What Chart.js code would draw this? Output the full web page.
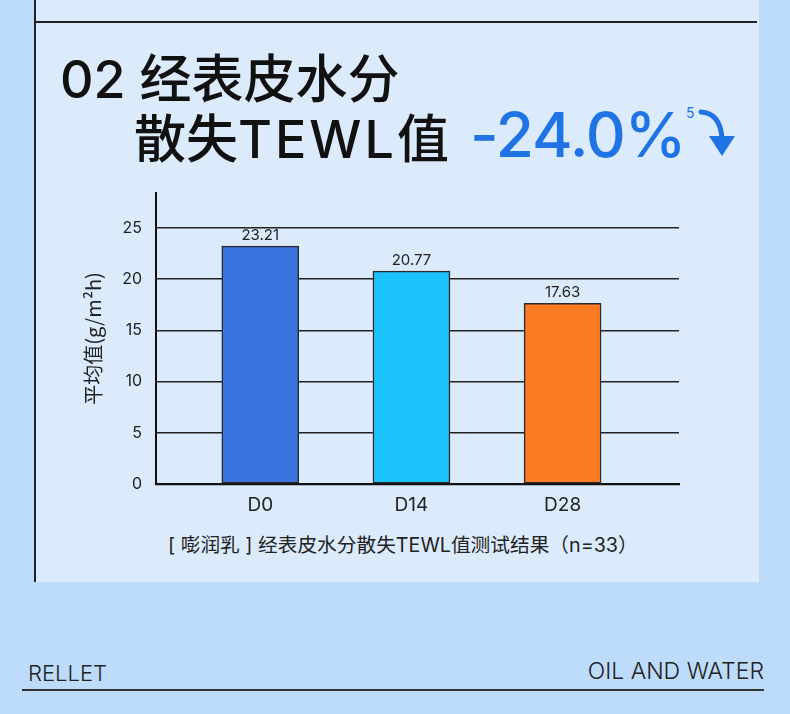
<!DOCTYPE html>
<html>
<head>
<meta charset="utf-8">
<script src="https://cdn.jsdelivr.net/npm/chart.js@4.4.1/dist/chart.umd.min.js"></script>
<style>
  body { margin: 0; width: 790px; height: 714px; background: #bddcfb; position: relative; overflow: hidden;
         font-family: Inter, "Noto Sans CJK SC", sans-serif; color: #111; }
  #panel { position: absolute; left: 34px; top: 0; width: 723px; height: 582px; background: #dcebfc; border-left: 2px solid #222; }
  #topline { position: absolute; left: 34px; top: 21px; width: 723px; height: 2px; background: #222; }
  .t { position: absolute; white-space: nowrap; line-height: 1; }
  #title1 { left: 60px; top: 54px; font-size: 52px; font-weight: 500; }
  #title2 { left: 134px; top: 114px; font-size: 52px; font-weight: 500; }
  #title2 span { letter-spacing: 3px; }
  #pct { left: 470px; top: 104px; font-size: 62px; color: #1f73e4; font-weight: 500; letter-spacing: -1px; }
  #sup { left: 686px; top: 106px; font-size: 14px; color: #1f73e4; }
  #caption { left: 168px; top: 536px; font-size: 19.7px; color: #222; }
  #brand { left: 28px; top: 662px; font-size: 22px; font-weight: 300; color: #222; }
  #slogan { right: 26px; top: 660px; font-size: 23px; font-weight: 300; color: #222; }
  #footline { position: absolute; left: 22px; top: 689px; width: 742px; height: 2px; background: #333; }
  #arrow { position: absolute; left: 692px; top: 104px; }
  #chart { position: absolute; left: 0; top: 0; }
</style>
</head>
<body>
<div id="panel"></div>
<div id="topline"></div>
<div class="t" id="title1">02 经表皮水分</div>
<div class="t" id="title2">散失<span>TEWL</span>值</div>
<div class="t" id="pct">-24.0%</div>
<div class="t" id="sup">5</div>
<svg id="arrow" width="50" height="60" viewBox="0 0 50 60">
  <path d="M9,8 Q28,9 30,34" fill="none" stroke="#1f73e4" stroke-width="5" stroke-linecap="round"/>
  <path d="M17,32 L43,32 L30,52 Z" fill="#1f73e4"/>
</svg>
<div class="t" id="caption">[ 嘭润乳 ] 经表皮水分散失TEWL值测试结果（n=33）</div>
<div class="t" id="brand">RELLET</div>
<div class="t" id="slogan">OIL AND WATER</div>
<div id="footline"></div>
<canvas id="chart" width="790" height="714"></canvas>

<script>
// chart data
const categories = ['D0', 'D14', 'D28'];
const tewlValues = [23.21, 20.77, 17.63];
const barColors = ['#3a74df', '#1cc2fd', '#fc7a20'];
const yTicks = [0, 5, 10, 15, 20, 25];

// value labels above the bars
const valueLabels = {
  id: 'valueLabels',
  afterDatasetsDraw(chart) {
    const ctx = chart.ctx;
    const meta = chart.getDatasetMeta(0);
    ctx.save();
    ctx.font = '15px Inter';
    ctx.fillStyle = '#222';
    ctx.textAlign = 'center';
    ctx.textBaseline = 'bottom';
    meta.data.forEach((bar, i) => {
      ctx.fillText(tewlValues[i].toFixed(2), bar.x, bar.y - 3);
    });
    ctx.restore();
  }
};

const ctx = document.getElementById('chart').getContext('2d');
const chart = new Chart(ctx, {
  type: 'bar',
  data: {
    datasets: [{
      data: tewlValues.map((v, i) => ({ x: i, y: v })),
      backgroundColor: barColors,
      borderColor: '#2a2a2a',
      borderWidth: 1.5,
      borderSkipped: false,
      barThickness: 77
    }]
  },
  options: {
    responsive: false,
    animation: false,
    layout: { padding: { left: 79, top: 193, right: 111, bottom: 190 } },
    plugins: { legend: { display: false }, tooltip: { enabled: false } },
    scales: {
      x: {
        type: 'linear',
        offset: false,
        min: -0.69,
        max: 2.77,
        afterBuildTicks: axis => { axis.ticks = categories.map((c, i) => ({ value: i })); },
        afterFit: axis => { axis.height = 40; },
        grid: { display: false, offset: false },
        border: { color: '#111', width: 2.2 },
        ticks: {
          callback: v => categories[v],
          font: { family: 'Inter', size: 19 },
          color: '#222',
          padding: 2,
          maxRotation: 0
        }
      },
      y: {
        min: 0,
        max: 28.4,
        afterBuildTicks: axis => { axis.ticks = yTicks.map(v => ({ value: v })); },
        afterFit: axis => { axis.width = 77; },
        grid: { color: '#222', lineWidth: 1.6, drawTicks: false },
        border: { color: '#111', width: 2 },
        ticks: { font: { family: 'Inter', size: 16 }, color: '#222', padding: 14 },
        title: {
          display: true,
          text: '平均值(g/m²h)',
          font: { family: '"Noto Sans CJK SC"', size: 20 },
          color: '#222',
          padding: { top: 2, bottom: 4 }
        }
      }
    }
  },
  plugins: [valueLabels]
});
</script>
</body>
</html>
